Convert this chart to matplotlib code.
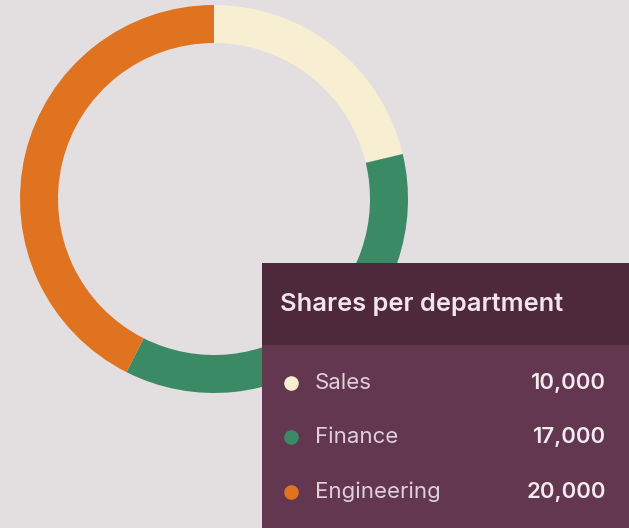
import matplotlib
matplotlib.use('Agg')
import matplotlib.pyplot as plt
from matplotlib.patches import Rectangle

departments = ['Sales', 'Finance', 'Engineering']
shares = [10000, 17000, 20000]
colors = ['#f8efd2', '#3b8a66', '#e0731f']
title = 'Shares per department'

W, H = 629, 528
bg = '#e3dfe1'

fig = plt.figure(figsize=(W / 100, H / 100), dpi=100, facecolor=bg)
ax = fig.add_axes([0, 0, 1, 1])
ax.set_facecolor(bg)

# donut, in pixel coordinates (y measured from the bottom)
ax.pie(shares, colors=colors, startangle=90, counterclock=False,
       center=(214, H - 199), radius=194,
       wedgeprops=dict(width=38, linewidth=0))

# tooltip box
ax.add_patch(Rectangle((262, 0), 400, H - 345, facecolor='#633750', lw=0, zorder=3))
ax.add_patch(Rectangle((262, H - 345), 400, 82, facecolor='#4e293c', lw=0, zorder=3))

ax.text(280, H - 305, title, fontsize=18.3, fontfamily='Inter', fontweight='semibold',
        color='#f2e6ec', va='center', ha='left', zorder=4)

row_y = [383, 437, 492]
for name, val, c, y in zip(departments, shares, colors, row_y):
    ax.scatter([291], [H - y], s=110, color=c, zorder=4, linewidths=0)
    ax.text(315, H - y, name, fontsize=16, fontfamily='Inter', color='#e0d0d8',
            va='center', ha='left', zorder=4)
    ax.text(606, H - y, f'{val:,}', fontsize=16, fontfamily='Inter', fontweight='semibold',
            color='#f4ebef', va='center', ha='right', zorder=4)

ax.set_xlim(0, W)
ax.set_ylim(0, H)
ax.set_aspect('auto')
ax.axis('off')

fig.savefig('out.png', dpi=100, facecolor=bg)
